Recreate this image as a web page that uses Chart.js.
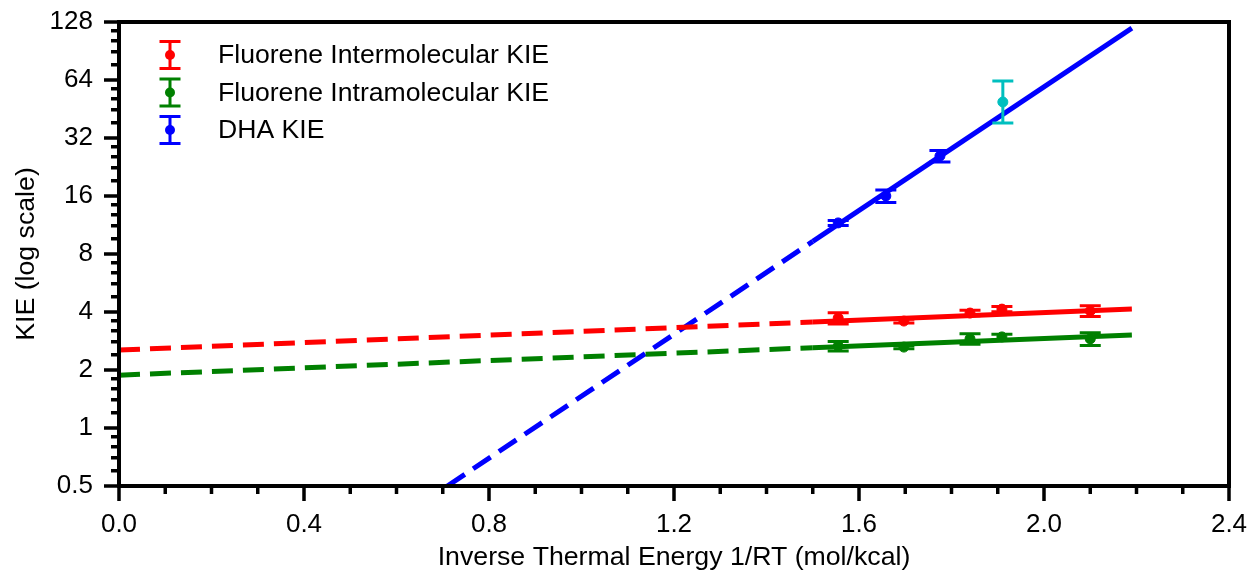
<!DOCTYPE html>
<html>
<head>
<meta charset="utf-8">
<script src="https://cdn.jsdelivr.net/npm/chart.js@4/dist/chart.umd.min.js"></script>
<style>
  html, body { margin: 0; padding: 0; background: #fff; }
  #wrap { width: 1251px; height: 571px; }
</style>
</head>
<body>
<div id="wrap"><canvas id="plot"></canvas></div>
<script>
// ejes
const xTicks = [0.0, 0.4, 0.8, 1.2, 1.6, 2.0, 2.4];
const yTicks = [0.5, 1, 2, 4, 8, 16, 32, 64, 128];

// puntos medidos (1/RT en mol/kcal)
const invRT = [1.555, 1.697, 1.84, 1.909, 2.10];
const kieInter = [3.72, 3.59, 3.95, 4.14, 4.05];
const errInter = [0.25, 0.08, 0.13, 0.13, 0.26];
const kieIntra = [2.66, 2.63, 2.90, 2.97, 2.90];
const errIntra = [0.15, 0.05, 0.18, 0.10, 0.22];

const invRTDha = [1.555, 1.658, 1.775];
const kieDha = [11.6, 16.0, 25.8];
const errDha = [0.35, 1.2, 1.75];

// punto DHA a baja temperatura (otro color)
const invRTDhaAlt = [1.911];
const kieDhaAlt = [49.2];
const errDhaAltDown = [10.9];
const errDhaAltUp = [14.1];

// ajustes: tramo extrapolado (discontinuo) y tramo medido (continuo)
const fitX = [0, 1.5, 2.19];
const fitInter = [2.54, 3.55, 4.14];
const fitIntra = [1.88, 2.61, 3.04];
const fitDhaX = [0.71, 1.5, 2.19];
const fitDha = [0.5, 9.3, 119];

const rojo = '#ff0000', verde = '#008000', azul = '#0000ff', cian = '#00bfbf';
const fuente = '"Liberation Sans", Arial, sans-serif';

let puntos = (xs, ys) => xs.map((x, i) => ({x: x, y: ys[i]}));

let lineaAjuste = (xs, ys, color) => ({
  type: 'line',
  data: puntos(xs, ys),
  borderColor: color,
  borderWidth: 5,
  borderCapStyle: 'butt',
  pointRadius: 0,
  fill: false,
  segment: {
    borderDash: ctx => ctx.p0DataIndex === 0 ? [21, 10] : undefined
  }
});

let serie = (label, xs, ys, errDown, errUp, color) => ({
  label: label,
  data: puntos(xs, ys),
  errDown: errDown,
  errUp: errUp,
  backgroundColor: color,
  borderColor: color,
  pointRadius: 5,
  pointHoverRadius: 5,
  showLine: false
});

// barras de error dibujadas con las escalas del gráfico
const barrasError = {
  id: 'barrasError',
  afterDatasetsDraw(chart) {
    const ctx = chart.ctx;
    const xs = chart.scales.x, ys = chart.scales.y;
    chart.data.datasets.forEach(ds => {
      if (!ds.errDown) return;
      ctx.save();
      ctx.strokeStyle = ds.borderColor;
      ctx.lineWidth = 3;
      ds.data.forEach((p, i) => {
        const px = xs.getPixelForValue(p.x);
        const y0 = ys.getPixelForValue(p.y - ds.errDown[i]);
        const y1 = ys.getPixelForValue(p.y + ds.errUp[i]);
        ctx.beginPath();
        ctx.moveTo(px, y0); ctx.lineTo(px, y1);
        ctx.moveTo(px - 10.5, y0); ctx.lineTo(px + 10.5, y0);
        ctx.moveTo(px - 10.5, y1); ctx.lineTo(px + 10.5, y1);
        ctx.stroke();
      });
      ctx.restore();
    });
  }
};

// marco y marcas de los ejes
const marco = {
  id: 'marco',
  afterDraw(chart) {
    const ctx = chart.ctx;
    const a = chart.chartArea;
    const xs = chart.scales.x, ys = chart.scales.y;
    ctx.save();
    ctx.strokeStyle = '#000';
    ctx.lineWidth = 3.5;
    ctx.lineCap = 'butt';
    ctx.beginPath();
    xTicks.forEach(v => {
      const px = xs.getPixelForValue(v);
      ctx.moveTo(px, a.bottom); ctx.lineTo(px, a.bottom + 15);
    });
    for (let v = 0.1; v < 2.4; v += 0.1) {
      if (Math.abs(v / 0.4 - Math.round(v / 0.4)) < 0.01) continue;
      const px = xs.getPixelForValue(v);
      ctx.moveTo(px, a.bottom); ctx.lineTo(px, a.bottom + 8);
    }
    yTicks.forEach((v, i) => {
      const py = ys.getPixelForValue(v);
      ctx.moveTo(a.left, py); ctx.lineTo(a.left - 15, py);
      if (i < yTicks.length - 1) {
        [1.2, 1.4, 1.6, 1.8].forEach(f => {
          const pm = ys.getPixelForValue(v * f);
          ctx.moveTo(a.left, pm); ctx.lineTo(a.left - 8, pm);
        });
      }
    });
    ctx.stroke();
    ctx.lineWidth = 4;
    ctx.strokeRect(a.left, a.top, a.right - a.left, a.bottom - a.top);
    ctx.restore();
  }
};

// leyenda con icono de barra de error
const leyenda = {
  id: 'leyenda',
  afterDraw(chart) {
    const ctx = chart.ctx;
    const a = chart.chartArea;
    const items = chart.data.datasets.filter(ds => ds.label);
    ctx.save();
    ctx.font = '26.6px ' + fuente;
    ctx.textBaseline = 'middle';
    items.forEach((ds, i) => {
      const cy = a.top + 33 + i * 37.5;
      const cx = a.left + 51;
      ctx.strokeStyle = ds.borderColor;
      ctx.fillStyle = ds.borderColor;
      ctx.lineWidth = 3;
      ctx.beginPath();
      ctx.moveTo(cx, cy - 13.5); ctx.lineTo(cx, cy + 13.5);
      ctx.moveTo(cx - 10.5, cy - 13.5); ctx.lineTo(cx + 10.5, cy - 13.5);
      ctx.moveTo(cx - 10.5, cy + 13.5); ctx.lineTo(cx + 10.5, cy + 13.5);
      ctx.stroke();
      ctx.beginPath();
      ctx.arc(cx, cy, 5, 0, Math.PI * 2);
      ctx.fill();
      ctx.fillStyle = '#000';
      ctx.fillText(ds.label, a.left + 99, cy + 1);
    });
    ctx.restore();
  }
};

let plotRef = document.getElementById('plot');

let config = {
  type: 'scatter',
  data: {
    datasets: [
      lineaAjuste(fitX, fitInter, rojo),
      lineaAjuste(fitX, fitIntra, verde),
      lineaAjuste(fitDhaX, fitDha, azul),
      serie('Fluorene Intermolecular KIE', invRT, kieInter, errInter, errInter, rojo),
      serie('Fluorene Intramolecular KIE', invRT, kieIntra, errIntra, errIntra, verde),
      serie('DHA KIE', invRTDha, kieDha, errDha, errDha, azul),
      serie(null, invRTDhaAlt, kieDhaAlt, errDhaAltDown, errDhaAltUp, cian)
    ]
  },
  options: {
    responsive: true,
    maintainAspectRatio: false,
    animation: false,
    devicePixelRatio: 1,
    layout: { padding: { top: 22, right: 22, left: 0, bottom: 0 } },
    plugins: {
      legend: { display: false },
      tooltip: { enabled: false }
    },
    scales: {
      x: {
        type: 'linear',
        min: 0,
        max: 2.4,
        afterBuildTicks: s => { s.ticks = xTicks.map(v => ({value: v})); },
        afterFit: s => { s.height = 85; s.paddingLeft = 0; s.paddingRight = 0; },
        grid: { display: false, drawTicks: false },
        border: { display: false },
        ticks: {
          padding: 23.5,
          color: '#000',
          font: { family: fuente, size: 26 },
          maxRotation: 0,
          callback: v => v.toFixed(1)
        },
        title: {
          display: true,
          text: 'Inverse Thermal Energy 1/RT (mol/kcal)',
          color: '#000',
          font: { family: fuente, size: 26.7, lineHeight: 1 },
          padding: { top: 0, bottom: 0 }
        }
      },
      y: {
        type: 'logarithmic',
        min: 0.5,
        max: 128,
        afterBuildTicks: s => { s.ticks = yTicks.map(v => ({value: v})); },
        afterFit: s => { s.width = 119; s.paddingTop = 0; s.paddingBottom = 0; },
        grid: { display: false, drawTicks: false },
        border: { display: false },
        ticks: {
          padding: 26,
          color: '#000',
          font: { family: fuente, size: 26 },
          callback: v => String(v)
        },
        title: {
          display: true,
          text: 'KIE (log scale)',
          color: '#000',
          font: { family: fuente, size: 26.7 },
          padding: { top: 11, bottom: 0 }
        }
      }
    }
  },
  plugins: [barrasError, marco, leyenda]
};

let chart = new Chart(plotRef, config);
</script>
</body>
</html>
